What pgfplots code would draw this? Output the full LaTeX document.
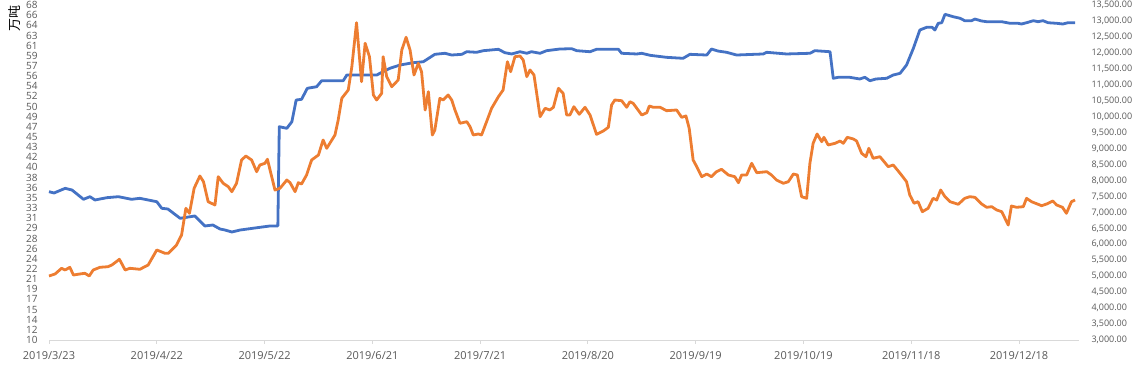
\documentclass[border=0pt]{standalone}
\usepackage{fontspec}
\setmainfont{Open Sans}
\newfontfamily\cjk{Noto Sans CJK SC}
\usepackage{pgfplots}
\pgfplotsset{compat=1.18}
\usepackage{pgfplotstable}
\definecolor{cblue}{HTML}{4472C4}
\definecolor{corange}{HTML}{ED7D31}
\definecolor{ctext}{HTML}{595959}
\definecolor{caxis}{HTML}{D9D9D9}
\pgfplotstableread{
day val
0 35.68
1.4 35.45
4.5 36.26
6.4 35.97
9.6 34.36
11.4 34.81
12.8 34.24
16.1 34.64
19.3 34.81
23.0 34.36
25.3 34.53
30.0 33.94
31.4 32.80
33.1 32.68
36.5 31.07
40.6 31.47
43.4 29.74
45.6 29.91
47.6 29.22
49.0 29.04
50.9 28.70
53.2 29.04
57.3 29.39
61.5 29.74
63.7 29.74
64.1 46.93
66.2 46.65
67.6 47.79
68.8 51.55
70.3 51.67
71.9 53.58
74.5 53.85
75.9 54.89
81.9 54.89
82.9 55.88
91.2 55.88
94.9 57.04
97.7 57.61
101.4 58.01
104.2 58.18
107.4 59.46
110.2 59.64
112.1 59.34
114.9 59.46
116.3 59.91
119.0 59.81
120.9 60.09
125.1 60.33
126.9 59.74
128.8 59.52
131.1 59.91
133.0 59.64
134.3 59.91
136.7 59.64
138.5 60.09
142.2 60.38
145.5 60.43
146.9 60.09
150.6 59.91
152.4 60.33
154.8 60.33
158.5 60.33
159.4 59.64
163.6 59.52
165.0 59.64
167.3 59.29
171.9 58.94
176.5 58.77
178.4 59.46
183.1 59.34
184.4 60.38
186.2 60.03
188.6 59.81
191.4 59.34
198.8 59.52
199.8 59.81
205.3 59.52
211.8 59.64
213.2 60.09
217.4 59.91
218.3 55.31
219.7 55.48
222.9 55.48
225.7 55.19
227.1 55.48
228.5 54.89
230.2 55.19
233.2 55.31
235.0 55.88
236.9 56.17
238.7 57.61
240.6 60.50
242.4 63.67
244.3 64.14
245.8 64.14
246.6 63.67
247.5 64.83
248.5 64.93
249.4 66.39
251.7 65.97
253.6 65.70
254.9 65.28
256.8 65.28
257.7 65.57
259.6 65.23
261.0 65.11
265.2 65.11
267.5 64.83
269.7 64.83
270.7 64.71
272.1 64.93
274.0 65.28
275.3 65.11
276.7 65.28
278.1 64.93
280.5 64.83
282.2 64.71
283.6 64.93
285.6 64.93
}\blueseries
\pgfplotstableread{
day val
0 5006
1.7 5069
3.5 5247
4.5 5194
5.8 5279
6.8 5037
8.6 5069
10.0 5091
11.2 5006
12.3 5194
14.2 5279
16.4 5297
17.5 5351
19.6 5529
21.2 5194
22.5 5247
25.3 5216
27.6 5351
30.0 5821
32.3 5717
33.2 5717
35.5 5978
36.9 6291
38.1 7128
39.1 6971
40.4 7755
42.0 8140
43.0 7962
44.3 7335
46.2 7231
47.1 8118
48.5 7911
49.9 7805
50.9 7648
52.2 7911
53.6 8642
54.8 8767
56.4 8642
57.8 8275
58.7 8485
60.1 8538
60.8 8664
62.9 7701
64.3 7755
66.2 8015
67.1 7930
68.5 7648
69.4 7930
70.3 7890
71.7 8172
73.1 8642
75.0 8798
76.3 9269
77.3 9008
79.6 9425
80.5 9895
81.5 10576
83.3 10836
84.3 11566
85.6 12945
87.0 11096
88.0 12299
89.2 11880
90.3 10679
91.2 10522
92.6 10732
93.0 11880
94.0 11253
95.4 10939
97.2 11149
98.2 12089
99.4 12488
100.5 12089
101.6 11306
102.8 11673
103.7 11409
104.7 10209
105.6 10783
106.7 9425
107.4 9582
108.8 10576
109.7 10522
111.1 10679
112.1 10522
113.0 10209
114.4 9792
116.3 9842
117.2 9685
118.1 9425
119.5 9457
120.4 9425
121.8 9842
123.2 10262
125.1 10626
126.4 10836
127.6 11723
128.5 11409
129.7 11880
131.1 11901
132.0 11776
133.0 11253
133.9 11463
135.0 11306
136.7 9999
138.1 10262
139.4 10209
140.4 10294
141.8 10889
143.1 10732
144.1 10052
145.0 10052
146.1 10312
147.6 10074
149.2 10294
150.6 10052
152.4 9447
154.3 9551
155.7 9667
156.6 10366
157.5 10522
159.4 10500
160.8 10294
161.7 10469
162.6 10419
165.0 10052
166.4 10124
167.1 10334
168.2 10294
170.1 10294
171.9 10187
174.7 10209
176.1 9980
177.3 10021
178.2 9635
179.3 8642
180.3 8432
181.7 8118
183.1 8203
184.4 8118
185.8 8275
187.2 8350
189.1 8172
190.9 8118
191.9 7930
192.8 8172
194.2 8172
195.6 8538
197.0 8244
199.8 8275
201.1 8172
202.5 8015
204.4 7911
205.8 7962
207.2 8203
208.3 8172
209.5 7491
210.9 7441
211.8 8538
212.7 9165
213.8 9457
215.1 9215
215.7 9353
216.9 9112
218.8 9165
220.2 9237
221.1 9165
222.2 9353
223.9 9300
224.8 9237
226.2 8852
227.4 8745
228.2 9008
229.4 8695
231.3 8745
233.6 8432
235.0 8485
236.9 8225
238.7 7962
239.6 7545
240.8 7285
241.9 7335
243.1 7021
244.7 7128
246.1 7441
247.1 7388
248.2 7701
249.4 7491
250.8 7335
253.1 7253
254.9 7441
256.3 7491
257.7 7473
259.6 7263
261.0 7159
262.4 7178
263.8 7075
265.2 7021
267.0 6604
267.9 7200
269.3 7159
271.2 7178
272.1 7441
273.5 7335
276.3 7209
277.7 7263
279.4 7357
280.5 7231
282.1 7159
283.2 6971
284.6 7335
285.6 7388
}\orangeseries
\begin{document}
\begin{tikzpicture}
\pgfplotsset{every axis/.append style={
  scale only axis, width=1030pt, height=335pt,
  xmin=0, xmax=286.7, enlargelimits=false, clip=false,
  tick label style={font=\fontsize{10}{11}\selectfont, color=ctext},
}}
\begin{axis}[
  at={(0pt,0pt)}, anchor=south west,
  ymin=10, ymax=68,
  axis x line*=bottom, axis y line*=left,
  x axis line style={draw=caxis, line width=0.9pt},
  y axis line style={draw=none},
  ytick style={draw=none},
  ytick={10,11.7576,13.5152,15.2727,17.0303,18.7879,20.5455,22.3030,24.0606,25.8182,27.5758,29.3333,31.0909,32.8485,34.6061,36.3636,38.1212,39.8788,41.6364,43.3939,45.1515,46.9091,48.6667,50.4242,52.1818,53.9394,55.6970,57.4545,59.2121,60.9697,62.7273,64.4848,66.2424,68},
  yticklabels={10,12,14,15,17,19,21,22,24,26,28,29,31,33,35,36,38,40,42,43,45,47,49,50,52,54,56,57,59,61,63,64,66,68},
  xtick={0,30,60,90,120,150,180,210,240,270},
  xticklabels={2019/3/23,2019/4/22,2019/5/22,2019/6/21,2019/7/21,2019/8/20,2019/9/19,2019/10/19,2019/11/18,2019/12/18},
  xtick style={draw=caxis, line width=0.9pt},
  tick align=outside, major tick length=4pt,
  yticklabel style={xshift=-4pt},
  xticklabel style={yshift=-4pt, font=\fontsize{11}{12}\selectfont},
]
\addplot[cblue, line width=2.8pt, line join=round, mark=none] table[x=day,y=val] {\blueseries};
\end{axis}
\begin{axis}[
  at={(0pt,0pt)}, anchor=south west,
  ymin=3000, ymax=13500,
  axis x line=none, axis y line*=right,
  y axis line style={draw=none},
  ytick style={draw=none},
  ytick={3000,3500,...,13500},
  scaled y ticks=false,
  yticklabel style={xshift=9pt, font=\fontsize{9}{10}\selectfont},
  /pgf/number format/fixed,
  /pgf/number format/fixed zerofill,
  /pgf/number format/precision=2,
  /pgf/number format/1000 sep={,},
  /pgf/number format/assume math mode=true,
]
\addplot[corange, line width=2.8pt, line join=round, mark=none] table[x=day,y=val] {\orangeseries};
\end{axis}
\node[rotate=90, anchor=west, inner sep=0pt, font=\cjk\fontsize{13}{13}\selectfont, text=black] at (-34pt,308pt) {万吨};
\pgfresetboundingbox
\path[use as bounding box] (-49pt,-39pt) rectangle (1099pt,340pt);
\end{tikzpicture}
\end{document}
